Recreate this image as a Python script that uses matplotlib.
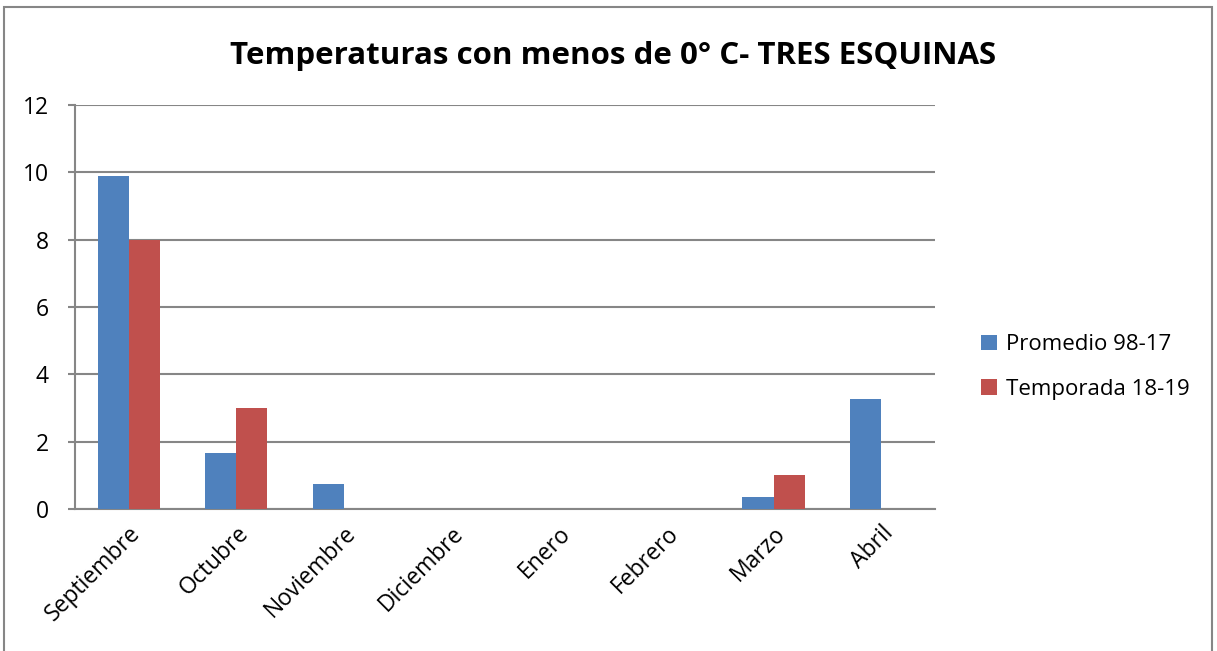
import numpy as np
import matplotlib.pyplot as plt
from matplotlib.patches import Rectangle

# Datos
meses = ['Septiembre', 'Octubre', 'Noviembre', 'Diciembre', 'Enero', 'Febrero', 'Marzo', 'Abril']
promedio = [9.9, 1.67, 0.74, 0, 0, 0, 0.37, 3.27]
temporada = [8, 3, 0, 0, 0, 0, 1, 0]
yticks = [0, 2, 4, 6, 8, 10, 12]

azul = '#4F81BD'
rojo = '#C0504D'
gris = '#868686'

plt.rcParams['font.family'] = ['Open Sans', 'DejaVu Sans']

fig = plt.figure(figsize=(12.17, 6.51), dpi=100)
ax = fig.add_axes([0.0616, 0.218, 0.7066, 0.621])

x = np.arange(len(meses))
w = 0.29
ax.bar(x - w / 2, promedio, w, color=azul, label='Promedio 98-17', zorder=3)
ax.bar(x + w / 2, temporada, w, color=rojo, label='Temporada 18-19', zorder=3)

ax.set_xlim(-0.5, len(meses) - 0.5)
ax.set_ylim(0, 12)
ax.set_yticks(yticks)
ax.set_xticks(x)
ax.set_xticklabels(meses, rotation=45, ha='right', rotation_mode='anchor', fontsize=16.5)
ax.tick_params(axis='y', labelsize=16.5, length=5, color=gris, width=1.5, pad=14)
ax.tick_params(axis='x', length=0, pad=9)
ax.grid(axis='y', color=gris, linewidth=1.5, zorder=0)

for s in ['top', 'right']:
    ax.spines[s].set_visible(False)
for s in ['left', 'bottom']:
    ax.spines[s].set_color(gris)
    ax.spines[s].set_linewidth(1.5)

fig.text(0.504, 0.914, 'Temperaturas con menos de 0° C- TRES ESQUINAS',
         ha='center', va='center', fontsize=22.5, fontweight='bold')

leg = ax.legend(loc='center left', bbox_to_anchor=(0.79, 0.436), bbox_transform=fig.transFigure,
                frameon=False, fontsize=16, handlelength=0.7, handleheight=0.7,
                labelspacing=1.05, handletextpad=0.4)

# Marco exterior
fig.patches.append(Rectangle((0.003, -0.01), 0.993, 1.0, transform=fig.transFigure,
                             fill=False, edgecolor=gris, linewidth=1.5))

fig.savefig('out.png', dpi=100)
